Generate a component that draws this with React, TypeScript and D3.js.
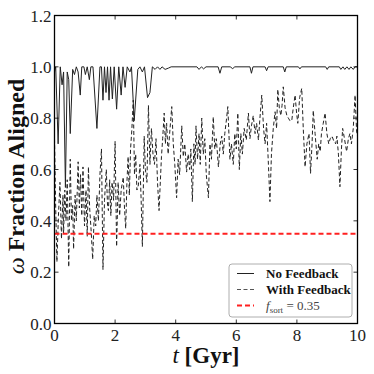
import * as d3 from 'd3';

// No Feedback (solid) - turning points
const noFbT = [0, 0.04, 0.12, 0.19, 0.25, 0.3, 0.36, 0.42, 0.47, 0.52, 0.6, 0.66, 0.72, 0.78, 0.85, 0.9, 0.97, 1.02, 1.08, 1.15, 1.2, 1.27, 1.4, 1.5, 1.55, 1.6, 1.65, 1.7, 1.75, 1.8, 1.85, 1.91, 1.97, 2.05, 2.12, 2.2, 2.26, 2.33, 2.4, 2.49, 2.54, 2.63, 2.75, 2.82, 2.9, 2.97, 3.07, 3.15, 3.23, 3.32, 3.4, 3.48, 3.55, 3.65, 3.76, 3.85, 4.7, 4.77, 4.85, 4.92, 5.0, 5.4, 5.46, 5.52, 5.8, 5.88, 5.95, 6.45, 6.5, 6.55, 6.95, 7.0, 7.05, 7.55, 7.6, 7.65, 8.05, 8.1, 8.15, 8.95, 9.0, 9.05, 9.4, 9.45, 9.52, 9.58, 9.65, 9.72, 9.78, 9.86, 9.92, 10];
const noFbV = [0.98, 1.0, 0.7, 1.0, 0.93, 0.98, 0.53, 0.98, 0.95, 0.74, 0.99, 0.97, 1.0, 0.98, 0.89, 1.0, 1.0, 0.97, 1.0, 0.95, 1.0, 1.0, 0.76, 1.0, 1.0, 0.87, 1.0, 0.9, 1.0, 0.87, 1.0, 0.875, 1.0, 0.835, 1.0, 0.89, 1.0, 0.92, 1.0, 0.98, 1.0, 0.79, 0.99, 1.0, 0.98, 1.0, 0.88, 0.9, 1.0, 0.99, 1.0, 0.99, 1.0, 0.99, 0.995, 1.0, 1.0, 0.99, 1.0, 0.992, 1.0, 1.0, 0.975, 1.0, 1.0, 0.993, 1.0, 1.0, 0.975, 1.0, 1.0, 0.985, 1.0, 1.0, 0.98, 1.0, 1.0, 0.992, 1.0, 1.0, 0.99, 1.0, 1.0, 0.99, 1.0, 0.99, 1.0, 0.99, 1.0, 0.99, 1.0, 1.0];

// With Feedback (dashed)
const fbT = [0, 0.04, 0.08, 0.13, 0.18, 0.23, 0.28, 0.3, 0.34, 0.38, 0.42, 0.47, 0.52, 0.56, 0.6, 0.63, 0.68, 0.72, 0.78, 0.82, 0.86, 0.9, 0.94, 0.99, 1.04, 1.08, 1.12, 1.16, 1.21, 1.26, 1.31, 1.36, 1.4, 1.45, 1.5, 1.55, 1.6, 1.65, 1.71, 1.75, 1.78, 1.82, 1.86, 1.9, 1.95, 2.0, 2.05, 2.1, 2.15, 2.2, 2.27, 2.31, 2.35, 2.39, 2.43, 2.47, 2.51, 2.55, 2.6, 2.64, 2.68, 2.72, 2.77, 2.82, 2.86, 2.9, 2.96, 3.0, 3.05, 3.1, 3.15, 3.2, 3.25, 3.3, 3.35, 3.4, 3.45, 3.53, 3.57, 3.62, 3.66, 3.7, 3.75, 3.8, 3.87, 3.92, 3.97, 4.03, 4.08, 4.13, 4.2, 4.25, 4.3, 4.36, 4.41, 4.46, 4.5, 4.55, 4.6, 4.64, 4.67, 4.72, 4.77, 4.81, 4.86, 4.91, 4.96, 5.01, 5.08, 5.13, 5.18, 5.24, 5.29, 5.34, 5.41, 5.47, 5.52, 5.57, 5.62, 5.68, 5.72, 5.79, 5.84, 5.9, 5.95, 6.0, 6.05, 6.1, 6.15, 6.2, 6.26, 6.33, 6.4, 6.45, 6.5, 6.56, 6.62, 6.67, 6.73, 6.78, 6.84, 6.9, 6.95, 7.0, 7.06, 7.11, 7.16, 7.22, 7.28, 7.33, 7.37, 7.42, 7.47, 7.51, 7.55, 7.61, 7.67, 7.72, 7.77, 7.83, 7.88, 7.94, 7.99, 8.03, 8.09, 8.16, 8.21, 8.27, 8.33, 8.4, 8.45, 8.5, 8.54, 8.6, 8.67, 8.72, 8.77, 8.81, 8.87, 8.93, 8.99, 9.05, 9.1, 9.16, 9.22, 9.28, 9.32, 9.37, 9.42, 9.47, 9.51, 9.57, 9.64, 9.7, 9.75, 9.8, 9.86, 9.92, 9.97, 10];
const fbV = [0.72, 0.45, 0.24, 0.42, 0.55, 0.33, 0.5, 0.35, 0.52, 0.4, 0.56, 0.22, 0.64, 0.4, 0.46, 0.29, 0.5, 0.4, 0.63, 0.45, 0.58, 0.42, 0.61, 0.38, 0.52, 0.34, 0.61, 0.45, 0.36, 0.25, 0.42, 0.38, 0.5, 0.4, 0.58, 0.68, 0.21, 0.48, 0.6, 0.46, 0.44, 0.56, 0.42, 0.55, 0.48, 0.71, 0.3, 0.55, 0.42, 0.52, 0.57, 0.45, 0.37, 0.55, 0.65, 0.5, 0.68, 0.75, 0.87, 0.58, 0.66, 0.52, 0.54, 0.62, 0.48, 0.3, 0.73, 0.6, 0.55, 0.85, 0.62, 0.76, 0.66, 0.62, 0.72, 0.55, 0.44, 0.65, 0.72, 0.82, 0.7, 0.78, 0.66, 0.74, 0.845, 0.7, 0.62, 0.49, 0.64, 0.58, 0.77, 0.65, 0.7, 0.59, 0.66, 0.6, 0.68, 0.475, 0.7, 0.62, 0.77, 0.64, 0.74, 0.62, 0.8, 0.66, 0.72, 0.58, 0.49, 0.7, 0.64, 0.805, 0.68, 0.72, 0.61, 0.7, 0.73, 0.66, 0.74, 0.8, 0.845, 0.64, 0.7, 0.62, 0.74, 0.68, 0.82, 0.6, 0.74, 0.66, 0.76, 0.715, 0.82, 0.72, 0.77, 0.81, 0.74, 0.78, 0.715, 0.8, 0.89, 0.76, 0.7, 0.78, 0.62, 0.475, 0.66, 0.76, 0.825, 0.76, 0.912, 0.84, 0.81, 0.85, 0.922, 0.84, 0.81, 0.8, 0.79, 0.79, 0.84, 0.89, 0.82, 0.78, 0.88, 0.916, 0.76, 0.61, 0.7, 0.74, 0.585, 0.7, 0.83, 0.74, 0.64, 0.7, 0.67, 0.74, 0.78, 0.82, 0.74, 0.7, 0.72, 0.73, 0.71, 0.7, 0.73, 0.66, 0.533, 0.68, 0.76, 0.72, 0.67, 0.72, 0.74, 0.7, 0.76, 0.89, 0.75, 0.73];

const fSort = 0.35;
const xTicks = [0, 2, 4, 6, 8, 10];
const yTicks = [0, 0.2, 0.4, 0.6, 0.8, 1.0, 1.2];

const serif = "'Liberation Serif', 'DejaVu Serif', serif";

const W = 374;
const H = 374;
const margin = { top: 15.5, right: 16.5, bottom: 50.5, left: 54.5 };
const width = W - margin.left - margin.right;
const height = H - margin.top - margin.bottom;

const x = d3.scaleLinear().domain([0, 10]).range([0, width]);
const y = d3.scaleLinear().domain([0, 1.2]).range([height, 0]);

const line = d3
  .line<[number, number]>()
  .x((d) => x(d[0]))
  .y((d) => y(d[1]));

const noFbPath = line(noFbT.map((t, i) => [t, noFbV[i]] as [number, number])) || '';
const fbPath = line(fbT.map((t, i) => [t, fbV[i]] as [number, number])) || '';

const RED = '#ff2020';
const tickLen = 4;

const legendEntries = [
  { label: 'No Feedback', stroke: '#222', dash: undefined, sw: 1 },
  { label: 'With Feedback', stroke: '#555', dash: '4,2.5', sw: 1 },
  { label: 'fsort', stroke: RED, dash: '5,3', sw: 2 },
];

export default function App() {
  return (
    <svg width={W} height={H} style={{ position: 'absolute', left: 0, top: 0, background: '#fff', fontFamily: serif }}>
      <defs>
        <clipPath id="plot-clip">
          <rect width={width} height={height} />
        </clipPath>
      </defs>
      <g transform={`translate(${margin.left},${margin.top})`}>
        <g clipPath="url(#plot-clip)">
          <path d={noFbPath} fill="none" stroke="#222" strokeWidth={1} />
          <path d={fbPath} fill="none" stroke="#222" strokeWidth={1} strokeDasharray="4,2.5" />
          <line x1={x(0)} x2={x(10)} y1={y(fSort)} y2={y(fSort)} stroke={RED} strokeWidth={2} strokeDasharray="5,3" />
        </g>

        {/* inward ticks on all sides */}
        <g stroke="#000" strokeWidth={0.8}>
          {xTicks.map((t) => (
            <g key={`xt${t}`}>
              <line x1={x(t)} x2={x(t)} y1={height} y2={height - tickLen} />
              <line x1={x(t)} x2={x(t)} y1={0} y2={tickLen} />
            </g>
          ))}
          {yTicks.map((v) => (
            <g key={`yt${v}`}>
              <line x1={0} x2={tickLen} y1={y(v)} y2={y(v)} />
              <line x1={width} x2={width - tickLen} y1={y(v)} y2={y(v)} />
            </g>
          ))}
        </g>

        <rect width={width} height={height} fill="none" stroke="#000" strokeWidth={1.3} />

        {xTicks.map((t) => (
          <text key={`xl${t}`} x={x(t)} y={height + 17} textAnchor="middle" fontSize={17} fill="#222" style={{ fontFamily: serif }}>
            {t}
          </text>
        ))}
        {yTicks.map((v) => (
          <text key={`yl${v}`} x={-3} y={y(v)} dy="0.36em" textAnchor="end" fontSize={17} fill="#222" style={{ fontFamily: serif }}>
            {v.toFixed(1)}
          </text>
        ))}

        <text x={width / 2} y={height + 39} textAnchor="middle" fontSize={23} fontWeight="bold" fill="#111" style={{ fontFamily: serif }}>
          <tspan fontStyle="italic" fontWeight="normal">t</tspan>
          <tspan> [Gyr]</tspan>
        </text>

        <text
          transform={`translate(${-margin.left + 24},${height / 2 + 7}) rotate(-90)`}
          textAnchor="middle"
          fontSize={24}
          fontWeight="bold"
          fill="#111"
          style={{ fontFamily: serif }}
        >
          <tspan fontStyle="italic" fontWeight="normal">ω</tspan>
          <tspan> Fraction Aligned</tspan>
        </text>

        {/* legend */}
        <g transform="translate(174.5,248.5)">
          <rect width={123} height={53} rx={3} fill="#fff" stroke="#999" strokeWidth={0.8} />
          {legendEntries.map((e, i) => {
            const cy = 9.5 + i * 16;
            return (
              <g key={e.label}>
                <line x1={8} x2={25} y1={cy} y2={cy} stroke={e.stroke} strokeWidth={e.sw} strokeDasharray={e.dash} />
                {i < 2 ? (
                  <text x={37} y={cy} dy="0.35em" fontSize={13} fontWeight="bold" fill="#111" style={{ fontFamily: serif }}>
                    {e.label}
                  </text>
                ) : (
                  <text x={37} y={cy} dy="0.35em" fontSize={13} fill="#444" style={{ fontFamily: serif }}>
                    <tspan fontStyle="italic">f</tspan>
                    <tspan dy={3} fontSize={9}>sort</tspan>
                    <tspan dy={-3}> = 0.35</tspan>
                  </text>
                )}
              </g>
            );
          })}
        </g>
      </g>
    </svg>
  );
}
